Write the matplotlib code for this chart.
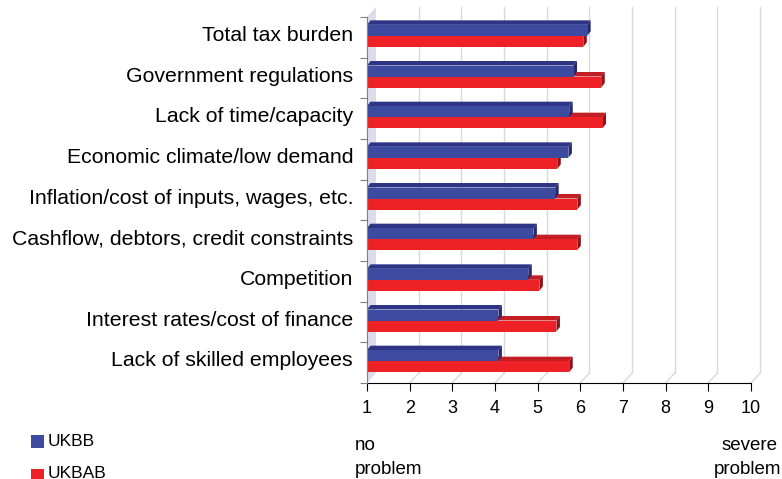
import matplotlib
matplotlib.use("Agg")
import matplotlib.pyplot as plt
from matplotlib.patches import Polygon, Rectangle
import numpy as np

plt.rcParams['font.family'] = ['Liberation Sans', 'DejaVu Sans']

categories = ["Total tax burden", "Government regulations", "Lack of time/capacity",
              "Economic climate/low demand", "Inflation/cost of inputs, wages, etc.",
              "Cashflow, debtors, credit constraints", "Competition",
              "Interest rates/cost of finance", "Lack of skilled employees"]
ukbb = [6.16, 5.84, 5.74, 5.72, 5.41, 4.90, 4.78, 4.08, 4.08]
ukbab = [6.07, 6.49, 6.52, 5.46, 5.93, 5.93, 5.04, 5.44, 5.74]
series_names = ["UKBB", "UKBAB"]
x_ticks = list(range(1, 11))

W, H = 782, 479
fig = plt.figure(figsize=(W / 100, H / 100), dpi=100)
L, R, T, B = 367, 751, 17, 383
ax = fig.add_axes([L / W, 1 - B / H, (R - L) / W, (B - T) / H])
n = len(categories)
xmin, xmax = 1, 10
ax.set_xlim(xmin, xmax)
ax.set_ylim(n - 0.5, -0.5)

dpx_x = (xmax - xmin) / (R - L)   # data units per pixel (x)
dpx_y = n / (B - T)               # data units per pixel (y)

# 3D wall and gridlines
wdx, wdy = 9 * dpx_x, 10 * dpx_y
wall = Polygon([(xmin, n - 0.5), (xmin + wdx, n - 0.5 - wdy), (xmin + wdx, -0.5 - wdy), (xmin, -0.5)],
               closed=True, facecolor='#DCDCEC', edgecolor='none', zorder=0.6, clip_on=False)
ax.add_patch(wall)
for t in x_ticks[1:]:
    ax.plot([t + wdx, t + wdx], [n - 0.5 - wdy, -0.5 - wdy], color='#DADADA', lw=1, zorder=0.5, clip_on=False)
    ax.plot([t, t + wdx], [n - 0.5, n - 0.5 - wdy], color='#DADADA', lw=1, zorder=0.5, clip_on=False)

# bars
bdx, bdy = 3.5 * dpx_x, 4.5 * dpx_y
h = 11 * dpx_y
colors = {
    "UKBB": ('#3C4AA0', '#2E3586', '#262A6C'),
    "UKBAB": ('#EE2226', '#C21E24', '#8A1418'),
}
offsets = {"UKBB": -7 * dpx_y, "UKBAB": 4 * dpx_y}
y = np.arange(n)
for name, vals, z in [("UKBAB", ukbab, 2), ("UKBB", ukbb, 3)]:
    front, top, side = colors[name]
    yc = y + offsets[name]
    ax.barh(yc, np.array(vals) - xmin, left=xmin, height=h, color=front, zorder=z + 0.5)
    for yy, v in zip(yc, vals):
        yt, yb = yy - h / 2, yy + h / 2
        ax.add_patch(Polygon([(xmin, yt), (v, yt), (v + bdx, yt - bdy), (xmin + bdx, yt - bdy)],
                             closed=True, facecolor=top, edgecolor='none', zorder=z))
        ax.add_patch(Polygon([(v, yt), (v, yb), (v + bdx, yb - bdy), (v + bdx, yt - bdy)],
                             closed=True, facecolor=side, edgecolor='none', zorder=z))

# axes styling
for s in ['top', 'right']:
    ax.spines[s].set_visible(False)
ax.spines['left'].set_color('#808080')
ax.spines['left'].set_zorder(5)
ax.spines['bottom'].set_color('black')
ax.set_yticks(np.arange(-0.5, n, 1.0))
ax.set_yticklabels([])
ax.set_yticks(y - 4 * dpx_y, minor=True)
ax.set_yticklabels(categories, minor=True, fontsize=15.3)
ax.tick_params(axis='y', which='major', length=5, color='#808080', direction='out')
ax.tick_params(axis='y', which='minor', length=0, pad=10)
ax.set_xticks(x_ticks)
ax.set_xticklabels([str(t) for t in x_ticks], fontsize=13)
ax.tick_params(axis='x', length=6, pad=6.5)

# legend
legend_y = [(435, 448, 441), (469, 479, 473)]
for name, (y0, y1, ty) in zip(series_names, legend_y):
    fig.patches.append(Rectangle((31 / W, 1 - y1 / H), 13 / W, (y1 - y0) / H,
                                 transform=fig.transFigure, facecolor=colors[name][0], edgecolor='none'))
    fig.text(48 / W, 1 - ty / H, name, fontsize=12.5, va='center', ha='left')

fig.text(355 / W, 1 - 445 / H, "no", fontsize=13.5, va='center', ha='left')
fig.text(355 / W, 1 - 470 / H, "problem", fontsize=13.5, va='center', ha='left')
fig.text(778 / W, 1 - 445 / H, "severe", fontsize=13.5, va='center', ha='right')
fig.text(781 / W, 1 - 470 / H, "problem", fontsize=13.5, va='center', ha='right')

fig.savefig("out.png", dpi=100)
